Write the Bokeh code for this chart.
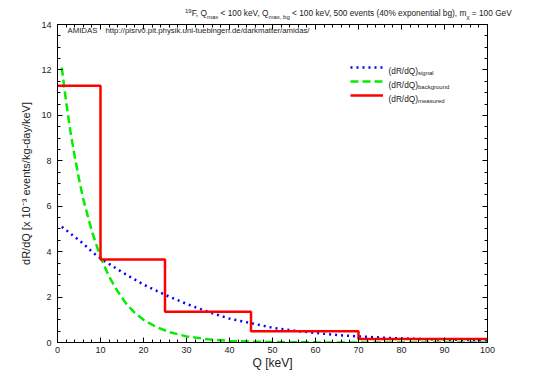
from bokeh.plotting import figure
from bokeh.layouts import column
from bokeh.models import (Label, Legend, LegendItem, LinearAxis, Range1d, FixedTicker, Div)
from bokeh.embed import file_html
from bokeh.resources import INLINE

# ---------------- data ----------------
q_signal = [1, 2, 4, 6, 8, 10, 15, 20, 25, 30, 35, 40, 45, 50, 55, 60, 65, 70, 75, 80, 85, 90, 95, 100]
r_signal = [5.1, 4.95, 4.65, 4.35, 4.0, 3.7, 3.1, 2.55, 2.1, 1.7, 1.35, 1.05, 0.85, 0.65, 0.52, 0.42,
            0.33, 0.27, 0.22, 0.18, 0.15, 0.13, 0.11, 0.1]
q_background = [1, 2, 3, 4, 5, 6, 8, 10, 12, 14, 16, 18, 20, 23, 26, 30, 35, 40, 45, 50, 60, 70, 80, 90, 100]
r_background = [12.1, 10.6, 9.3, 8.2, 7.2, 6.3, 4.9, 3.75, 2.9, 2.25, 1.7, 1.3, 1.0, 0.68, 0.46, 0.27,
                0.14, 0.07, 0.037, 0.02, 0.006, 0.002, 0.0005, 0.0001, 0.0]
bin_edges = [0, 10, 25, 45, 70, 100]
r_measured = [11.3, 3.65, 1.35, 0.5, 0.15]
x_ticks = list(range(0, 101, 10))
y_ticks = list(range(0, 15, 2))

FONT = "Liberation Sans"

# page layout (page pixel coords of the frame)
FL, FR, FT, FB = 57, 487, 24, 344
TITLE_H = 20
W, H = 532, 372 - TITLE_H

p = figure(width=W, height=H, output_backend="svg", toolbar_location=None,
           x_range=Range1d(0, 100), y_range=Range1d(0, 14),
           min_border_left=FL, min_border_right=W - FR,
           min_border_top=FT - TITLE_H, min_border_bottom=H - (FB - TITLE_H),
           x_axis_type=None, y_axis_type=None)
p.outline_line_color = "black"
p.outline_line_width = 1
p.background_fill_color = "white"
p.border_fill_color = "white"
p.xgrid.visible = False
p.ygrid.visible = False

xt = FixedTicker(ticks=x_ticks, minor_ticks=[v for v in range(0, 101, 2)])
yt = FixedTicker(ticks=y_ticks, minor_ticks=[v * 0.5 for v in range(0, 29)])


def style_axis(ax, labels=True):
    ax.axis_line_color = "black"
    ax.major_tick_in = 5
    ax.major_tick_out = 0
    ax.minor_tick_in = 3
    ax.minor_tick_out = 0
    ax.major_tick_line_color = "black"
    ax.minor_tick_line_color = "black"
    ax.major_label_text_font = FONT
    ax.major_label_text_font_size = "9px"
    ax.major_label_text_color = "#222222"
    ax.axis_label_text_font = FONT
    ax.axis_label_text_font_style = "normal"
    ax.axis_label_text_font_size = "12px"
    ax.axis_label_text_color = "#222222"
    if not labels:
        ax.major_label_text_alpha = 0
        ax.major_label_text_font_size = "1px"


xb = LinearAxis(ticker=xt, axis_label="Q [keV]")
style_axis(xb)
xb.major_label_standoff = 4
xb.axis_label_standoff = 0
p.add_layout(xb, "below")
xa = LinearAxis(ticker=xt)
style_axis(xa, labels=False)
xa.major_label_standoff = 0
p.add_layout(xa, "above")
yl = LinearAxis(ticker=yt, axis_label="dR/dQ [x 10\u207b\u00b3 events/kg-day/keV]")
style_axis(yl)
yl.axis_label_text_font_size = "11px"
yl.major_label_standoff = 6
yl.axis_label_standoff = 6
p.add_layout(yl, "left")
yr = LinearAxis(ticker=yt)
style_axis(yr, labels=False)
yr.major_label_standoff = 0
p.add_layout(yr, "right")

# ---------------- curves ----------------
r_sig = p.line(q_signal, r_signal, line_color="#0000ff", line_width=2.5, line_dash="2 4")
r_bkg = p.line(q_background, r_background, line_color="#00ee00", line_width=2.5, line_dash="8 4")
r_mea = p.step(bin_edges, r_measured + [r_measured[-1]], mode="after",
               line_color="#ff0000", line_width=2.5)

legend = Legend(items=[LegendItem(label=" ", renderers=[r_sig]),
                       LegendItem(label=" ", renderers=[r_bkg]),
                       LegendItem(label=" ", renderers=[r_mea])],
                location=(350 - FL, FB - 104), padding=0, spacing=0, margin=0,
                glyph_width=33, glyph_height=14, label_height=14, label_width=0,
                label_standoff=0, label_text_font_size="1px",
                border_line_alpha=0, background_fill_alpha=0)
p.add_layout(legend, "center")

# ---------------- rich text helper (inside the frame) ----------------
WID = {" ": 278, "\u00a0": 278, "(": 333, ")": 333, "%": 889, ",": 278, "-": 333, ".": 278,
       "/": 278, ":": 278, "<": 584, "=": 584, "[": 278, "]": 278, "A": 667, "D": 722, "F": 611,
       "G": 778, "I": 278, "M": 833, "Q": 778, "R": 722, "S": 667, "V": 667, "a": 556, "b": 556,
       "c": 500, "d": 556, "e": 556, "g": 556, "h": 556, "i": 222, "k": 500, "l": 222, "m": 833,
       "n": 556, "o": 556, "p": 556, "r": 333, "s": 500, "t": 278, "u": 556, "v": 500, "x": 500,
       "y": 500}


def twidth(t, size):
    return sum(WID.get(c, 556) for c in t) * size / 1000.0


def rich(runs, px, py, color="#222222"):
    """runs: (text, size, shift up in px). px, py: page coords of baseline start."""
    pos = 0.0
    for text, size, shift in runs:
        p.add_layout(Label(x=px - FL + pos, y=FB - py + shift, x_units="screen", y_units="screen",
                           text=text, text_font=FONT, text_font_size=f"{size}px",
                           text_color=color, text_align="left", text_baseline="alphabetic"))
        pos += twidth(text, size)


S, SS = 8.3, 6.0
rich([("AMIDAS", 7.8, 0), ("http://pisrv0.pit.physik.uni-tuebingen.de/darkmatter/amidas/", 7.8, 0)][:1], 67, 32)
rich([("http://pisrv0.pit.physik.uni-tuebingen.de/darkmatter/amidas/", 7.8, 0)],
     67 + twidth("AMIDAS", 7.8) + 8, 32)

for i, sub in enumerate(["signal", "background", "measured"]):
    rich([("(dR/dQ)", S, 0), (sub, SS, -2.5)], 388, 72 + 14 * i)

# ---------------- title (rich HTML text above the plot) ----------------
sub_style = "font-size:6px;line-height:0;vertical-align:-2.5px"
sup_style = "font-size:6px;line-height:0;vertical-align:3.5px"
title_html = (
    f'<div style="margin-left:185px;padding-top:8px;line-height:10px;white-space:nowrap;'
    f'font-family:\'{FONT}\';font-size:{S}px;color:#222222">'
    f'<span style="{sup_style}">19</span>F, Q<span style="{sub_style}">max</span> &lt; 100 keV, '
    f'Q<span style="{sub_style}">max, bg</span> &lt; 100 keV, 500 events (40% exponential bg), '
    f'm<span style="{sub_style}">\u03c7</span> = 100 GeV</div>'
)
title = Div(text=title_html, width=W, height=TITLE_H, margin=(0, 0, 0, 0))

layout = column(title, p, spacing=0)
open("out.html", "w").write(file_html(layout, INLINE))
